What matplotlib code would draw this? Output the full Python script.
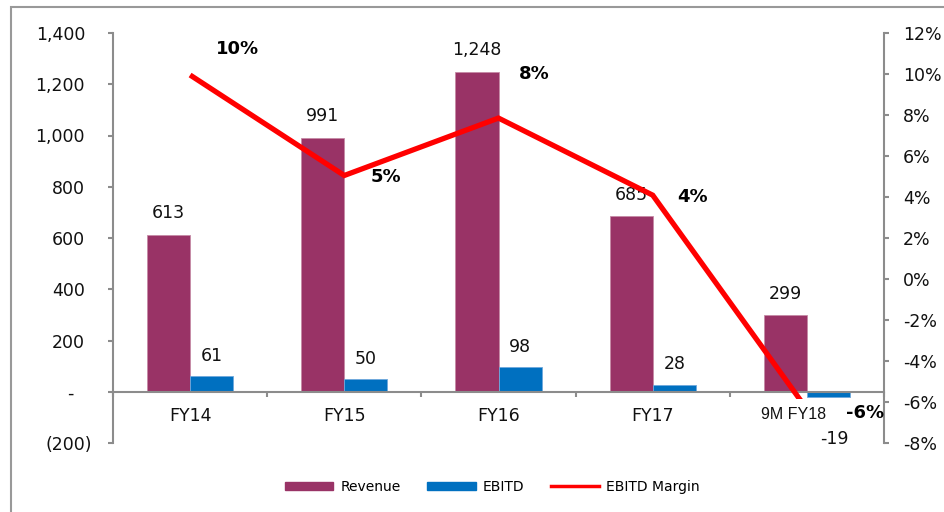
import matplotlib
matplotlib.use("Agg")
import matplotlib.pyplot as plt
from matplotlib.patches import Rectangle
from matplotlib.lines import Line2D
from matplotlib.transforms import ScaledTranslation
import numpy as np

categories = ["FY14", "FY15", "FY16", "FY17", "9M FY18"]
revenue = [613, 991, 1248, 685, 299]
ebitd = [61, 50, 98, 28, -19]
margin = [9.95, 5.05, 7.85, 4.09, -6.35]  # percent
margin_labels = ["10%", "5%", "8%", "4%", "-6%"]
left_ticks = [-200, 0, 200, 400, 600, 800, 1000, 1200, 1400]
left_ticklabels = ["(200)", "-", "200", "400", "600", "800", "1,000", "1,200", "1,400"]
right_ticks = [-8, -6, -4, -2, 0, 2, 4, 6, 8, 10, 12]
right_ticklabels = ["-8%", "-6%", "-4%", "-2%", "0%", "2%", "4%", "6%", "8%", "10%", "12%"]

REV_C = "#993366"
EB_C = "#0070C0"
GRAY = "#8c8c8c"

plt.rcParams['font.family'] = ['DejaVu Sans']

fig = plt.figure(figsize=(9.44, 5.12), dpi=100)
ax = fig.add_axes([113/944, 1-443/512, 771/944, 410/512])
ax2 = ax.twinx()

x = np.arange(len(categories))
w = 0.28
ax.bar(x - w/2, revenue, w, color=REV_C, edgecolor="#c68aa6", linewidth=0.6, zorder=2)
ax.bar(x + w/2, ebitd, w, color=EB_C, edgecolor="#6fa8dc", linewidth=0.6, zorder=2)

ax.set_xlim(-0.5, len(categories) - 0.5)
ax.set_ylim(-200, 1400)
ax.set_yticks(left_ticks)
ax.set_yticklabels(left_ticklabels, fontsize=12.5, color="#111111")

for s in ["top", "right"]:
    ax.spines[s].set_visible(False)
ax.spines["left"].set_color(GRAY)
ax.spines["left"].set_linewidth(1.5)
ax.spines["bottom"].set_position(("data", 0))
ax.spines["bottom"].set_color(GRAY)
ax.spines["bottom"].set_linewidth(1.5)
ax.tick_params(axis="y", direction="out", length=3.6, width=1.5, color=GRAY, pad=16.5)

ax.set_xticks(x)
ax.set_xticklabels(categories, fontsize=12.5, color="#111111")
ax.set_xticks(np.arange(len(categories) + 1) - 0.5, minor=True)
ax.tick_params(axis="x", which="major", length=0, pad=11)
ax.tick_params(axis="x", which="minor", length=3.6, width=1.5, color=GRAY, direction="out")

px = fig.dpi_scale_trans
lbls = ax.get_xticklabels()
lbls[-1].set_fontfamily("Liberation Sans")
lbls[-1].set_fontsize(11.5)
lbls[-1].set_transform(lbls[-1].get_transform() + ScaledTranslation(-13/100, 0, px))

ylbls = ax.get_yticklabels()
ylbls[0].set_transform(ylbls[0].get_transform() + ScaledTranslation(7/100, 0, px))
ylbls[1].set_transform(ylbls[1].get_transform() + ScaledTranslation(-12/100, 0, px))

# bar labels
for xi, v in zip(x, revenue):
    ax.annotate(f"{v:,}", (xi - w/2, v), xytext=(0, 9), textcoords="offset points",
                ha="center", va="bottom", fontsize=12.5, color="#111111")
for xi, v in zip(x, ebitd):
    if v >= 0:
        ax.annotate(f"{v:,}", (xi + w/2, v), xytext=(0, 8), textcoords="offset points",
                    ha="center", va="bottom", fontsize=12.5, color="#111111")
    else:
        ax.annotate(f"{v:,}", (xi + w/2, v), xytext=(4, -24), textcoords="offset points",
                    ha="center", va="top", fontsize=12.5, color="#111111")

# margin line
ax2.set_ylim(-8, 12)
ax2.set_yticks(right_ticks)
ax2.set_yticklabels(right_ticklabels, fontsize=12.5, color="#111111")
for s in ["top", "left", "bottom"]:
    ax2.spines[s].set_visible(False)
ax2.spines["right"].set_color(GRAY)
ax2.spines["right"].set_linewidth(1.5)
ax2.tick_params(axis="y", direction="out", length=3.6, width=1.5, color=GRAY, pad=10)

line, = ax2.plot(x, margin, color="#FF0000", linewidth=3.8, solid_joinstyle="miter",
                 solid_capstyle="butt", zorder=3)
clip = Rectangle((-0.5, -5.85), len(categories), 20, transform=ax2.transData,
                 facecolor="none", edgecolor="none")
ax2.add_patch(clip)
line.set_clip_path(clip)

offsets = [(34, 19), (30, -1), (26, 32), (29, -1), (42, -3)]
for xi, v, t, off in zip(x, margin, margin_labels, offsets):
    ax2.annotate(t, (xi, v), xytext=off, textcoords="offset points",
                 ha="center", va="center", fontsize=13, fontweight="bold",
                 color="#000000", annotation_clip=False)

# legend
handles = [Rectangle((0, 0), 1, 1, color=REV_C),
           Rectangle((0, 0), 1, 1, color=EB_C),
           Line2D([0], [0], color="#FF0000", linewidth=2.5)]
leg = ax.legend(handles, ["Revenue", "EBITD", "EBITD Margin"], loc="center",
                bbox_to_anchor=(0.492, -0.107), ncol=3, frameon=False, fontsize=10,
                handlelength=3.5, handleheight=0.55, columnspacing=1.9, handletextpad=0.5)

# outer border
fig.patches.append(Rectangle((11/944, -0.1), 1.2, 1 - 7/512 + 0.1, transform=fig.transFigure,
                             fill=False, edgecolor="#999999", linewidth=1.5))

fig.savefig("out.png", dpi=100)
